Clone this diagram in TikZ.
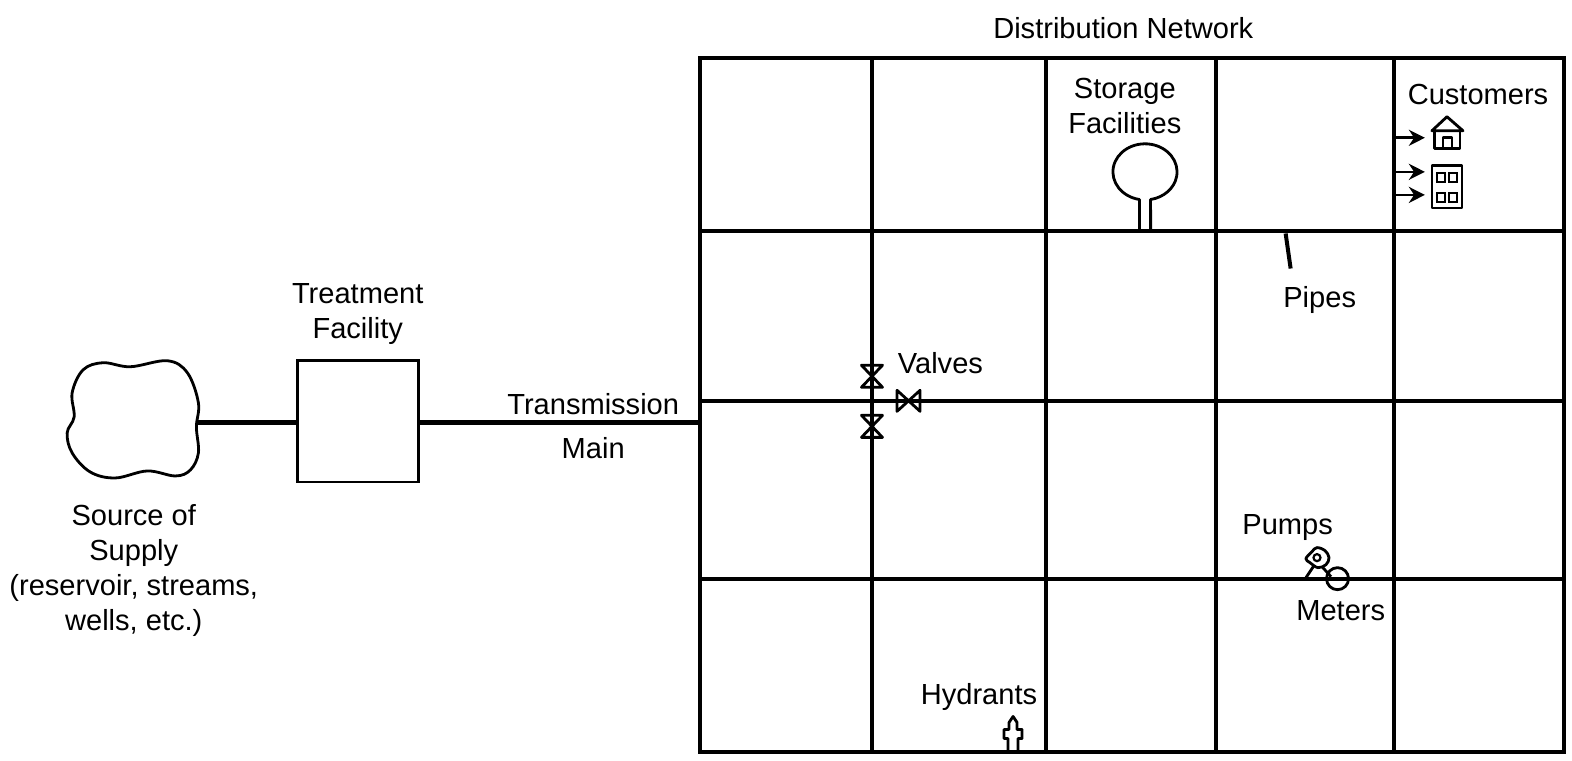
\documentclass[tikz,border=0pt]{standalone}
\usepackage{fontspec}
\setmainfont{Liberation Sans}
\usetikzlibrary{arrows.meta}
\tikzset{
  pipe/.style={line width=2pt},
  mainpipe/.style={line width=2.6pt},
  thin part/.style={line width=1.4pt, line join=round},
  lbl/.style={font=\fontsize{14.5pt}{17.5pt}\selectfont, align=center, inner sep=0pt},
  feed/.style={line width=1.3pt, -{Stealth[length=8pt,width=8pt]}}
}
\begin{document}
\begin{tikzpicture}[x=0.5pt,y=-0.5pt]
  \useasboundingbox (0,0) rectangle (1568.8,759);

  % distribution grid
  \foreach \gx in {870,1044,1214,1391} {
    \draw[pipe] (\gx,58) -- (\gx,750);
  }
  \foreach \gy in {231,400,578} {
    \draw[pipe] (699,\gy) -- (1561,\gy);
  }
  \draw[pipe] (699,58) rectangle (1561,750);

  % source and treatment
  \draw[thin part] plot[smooth cycle, tension=0.6] coordinates {(72,392) (83,369) (103,362) (130,366) (167,360) (187,372) (198,402) (196,426) (198,452) (190,469) (175,475) (147,470) (115,477) (90,471) (72,452) (67,432) (74,416)};
  \coordinate (source) at (196,422);
  \coordinate (inlet) at (699,422);
  \node[draw, line width=1.4pt, minimum size=60.5pt, inner sep=0pt] (treatment) at (357.5,420.5) {};
  \draw[mainpipe] (source) -- (source-|treatment.west);
  \draw[mainpipe] (inlet-|treatment.east) -- (inlet);

  % storage tank
  \begin{scope}[shift={(-2.3,-0.5)}]
    \draw[thin part] (1139.4,231) -- (1139.4,199.6) arc[start angle=100,end angle=440,x radius=32,y radius=28] -- (1150.6,231);
  \end{scope}

  % customers
  \begin{scope}[shift={(-3,-0.5)}]
    \foreach \ay in {138,172,195} {
      \draw[feed] (1394,\ay) -- (1425,\ay);
    }
    \draw[thin part] (1432,131) -- (1447,117) -- (1463,131) -- cycle;
    \draw[thin part] (1434.5,131) -- (1434.5,149) -- (1460,149) -- (1460,131);
    \draw[thin part] (1443,149) -- (1443,138) -- (1452,138) -- (1452,149);
    \draw[thin part] (1432,166) rectangle (1462,208);
    \foreach \wx in {1437,1449} {
      \foreach \wy in {173,193} {
        \draw[line width=1.1pt] (\wx,\wy) rectangle ++(8,9);
      }
    }
  \end{scope}

  % pipes
  \draw[pipe] (1283,233) -- (1288,268);

  % valves
  \begin{scope}[shift={(-1.8,-1)}]
    \foreach \vy in {376.5,426.5} {
      \draw[thin part] (861.5,\vy-11) -- (882.5,\vy-11) -- (861.5,\vy+11) -- (882.5,\vy+11) -- cycle;
    }
    \draw[thin part] (897,390.5) -- (897,411.5) -- (920,390.5) -- (920,411.5) -- cycle;
  \end{scope}

  % pump and meter
  \begin{scope}[shift={(-2.7,-1.5)}]
    \draw[thin part] plot[smooth cycle, tension=0.6] coordinates {(1306,559) (1312,552) (1317,548) (1325,551) (1329,558) (1326,565) (1318,568) (1310,563)};
    \draw[line width=1.1pt] (1317,558) circle[radius=3.5];
    \draw[thin part] (1314,566) -- (1306,578);
    \draw[thin part] (1322,567) -- (1331,577);
    \draw[thin part] (1337.5,579) circle[radius=11];
  \end{scope}

  % hydrant
  \begin{scope}[shift={(-2,-2)}]
    \draw[thin part] (1008,752) -- (1008,739) -- (1004,739) -- (1004,730) -- (1009,730) -- (1009,723) -- (1013,717) -- (1017,723) -- (1017,730) -- (1022,730) -- (1022,739) -- (1018,739) -- (1018,752);
  \end{scope}

  % labels
  \node[lbl] (network) at (1121,28) {Distribution Network};
  \node[lbl] (storage) at (1122.5,106) {Storage\\Facilities};
  \node[lbl] (customers) at (1475,94) {Customers};
  \node[lbl] (treatmentlbl) at (357,313) {Treatment\\Facility};
  \node[lbl] (sourcelbl) at (133.5,569.5) {Source of\\Supply\\(reservoir, streams,\\wells, etc.)};
  \node[lbl] (transmission) at (592,403) {Transmission};
  \node[lbl] (mainlbl) at (592,447) {Main};
  \node[lbl] (valves) at (938.5,362) {Valves};
  \node[lbl] (pipes) at (1317,299.5) {Pipes};
  \node[lbl] (pumps) at (1285,526.5) {Pumps};
  \node[lbl] (meters) at (1338,609.5) {Meters};
  \node[lbl] (hydrants) at (977,696) {Hydrants};
\end{tikzpicture}
\end{document}
